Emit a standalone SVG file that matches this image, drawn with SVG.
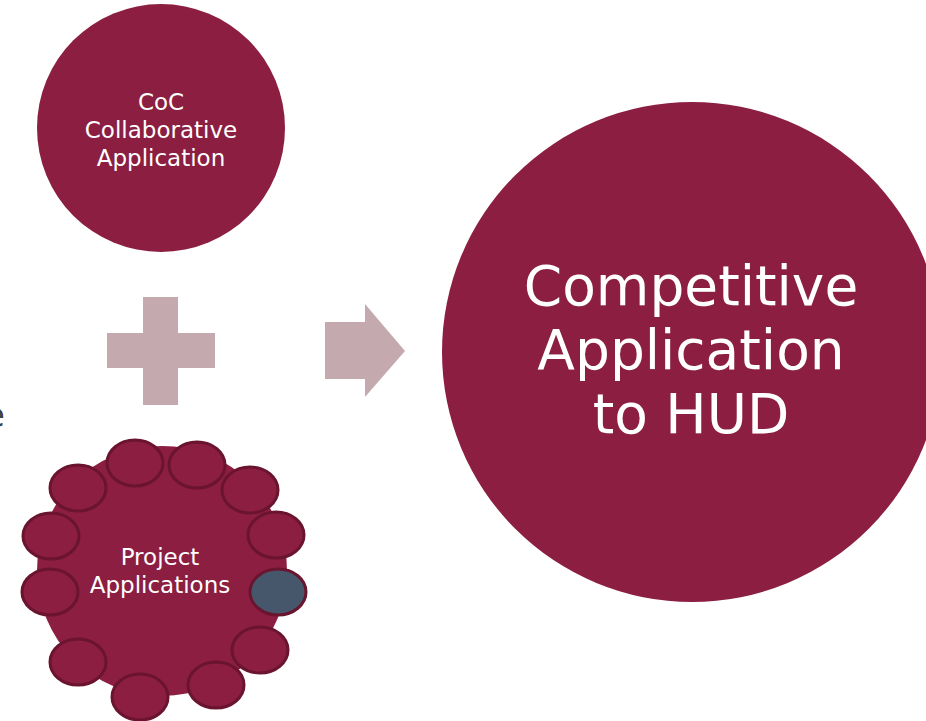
<svg xmlns="http://www.w3.org/2000/svg" width="926" height="721" viewBox="0 0 926 721">
<style>
.main{fill:#8B1E41}
.sm{fill:#8B1E41;stroke:#6A142F;stroke-width:3}
.blue{fill:#46566B;stroke:#6A142F;stroke-width:3}
.sym{fill:#C4A9AE}
.t{font-family:"DejaVu Sans",sans-serif;fill:#FFFFFF;text-anchor:middle}
.s{font-size:23px}
.b{font-size:55px}
</style>
<rect width="926" height="721" fill="#FFFFFF"/>
<text x="-16" y="427" font-family="DejaVu Sans, sans-serif" font-size="34" fill="#404040">e</text>
<g id="coc">
<circle class="main" cx="161" cy="128" r="124"/>
<text class="t s" x="161" y="110">CoC</text>
<text class="t s" x="161" y="138">Collaborative</text>
<text class="t s" x="161" y="166">Application</text>
</g>
<g id="project">
<circle class="main" cx="162" cy="571" r="125"/>
<ellipse class="sm" cx="135" cy="463" rx="28" ry="23"/>
<ellipse class="sm" cx="197" cy="465" rx="28" ry="23"/>
<ellipse class="sm" cx="250" cy="490" rx="28" ry="23"/>
<ellipse class="sm" cx="276" cy="535" rx="28" ry="23"/>
<ellipse class="blue" cx="278" cy="592" rx="28" ry="23"/>
<ellipse class="sm" cx="260" cy="650" rx="28" ry="23"/>
<ellipse class="sm" cx="216" cy="685" rx="28" ry="23"/>
<ellipse class="sm" cx="140" cy="697" rx="28" ry="23"/>
<ellipse class="sm" cx="78" cy="662" rx="28" ry="23"/>
<ellipse class="sm" cx="50" cy="592" rx="28" ry="23"/>
<ellipse class="sm" cx="51" cy="536" rx="28" ry="23"/>
<ellipse class="sm" cx="78" cy="488" rx="28" ry="23"/>
<text class="t s" x="160" y="565">Project</text>
<text class="t s" x="160" y="593">Applications</text>
</g>
<g id="plus">
<path class="sym" d="M143,297 H178 V333 H215 V368 H178 V405 H143 V368 H107 V333 H143 Z"/>
</g>
<g id="connectors">
<path class="sym" d="M325,322 H365 V304 L405,351 L365,397 V379 H325 Z"/>
</g>
<g id="hud">
<circle class="main" cx="692" cy="352" r="250"/>
<text class="t b" x="691" y="305">Competitive</text>
<text class="t b" x="691" y="369">Application</text>
<text class="t b" x="691" y="433">to HUD</text>
</g>
</svg>
